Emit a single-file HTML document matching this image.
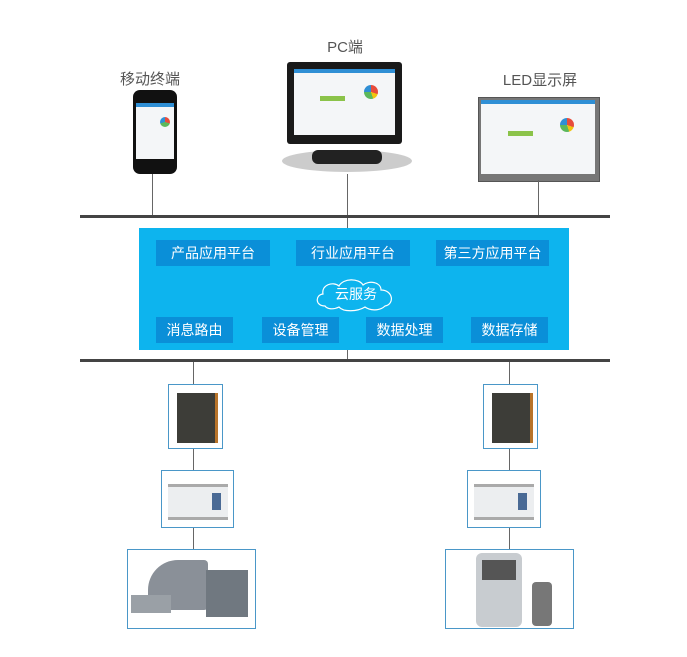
<!DOCTYPE html>
<html><head><meta charset="utf-8"><style>
body{margin:0;width:687px;height:657px;background:#fff;position:relative;overflow:hidden;font-family:"Liberation Sans","Noto Sans CJK SC",sans-serif}
.a{position:absolute}
.lbl{position:absolute;font-size:15px;color:#555;text-align:center}
.vl{position:absolute;width:1px;background:#666}
.bar{position:absolute;left:80px;width:530px;height:3px;background:#444}
.bt{position:absolute;height:26px;background:#0a8fd8;color:#fff;font-size:14px;line-height:26px;text-align:center}
.dev{position:absolute;border:1px solid #4a97c8;background:#fff;box-sizing:border-box}
.scr{position:absolute;background:#f4f6f8}
</style></head><body>
<div class="lbl" style="left:115px;top:68px;width:70px">移动终端</div>
<div class="lbl" style="left:310px;top:36px;width:70px">PC端</div>
<div class="lbl" style="left:495px;top:69px;width:90px">LED显示屏</div>
<!-- phone -->
<div class="a" style="left:133px;top:90px;width:44px;height:84px;background:#111;border-radius:7px"></div>
<div class="scr" style="left:136px;top:103px;width:38px;height:56px"></div>
<div class="a" style="left:136px;top:103px;width:38px;height:4px;background:#2f8fd5"></div>
<div class="a" style="left:160px;top:117px;width:10px;height:10px;border-radius:50%;background:conic-gradient(#e74c3c 0 30%,#5cb85c 0 70%,#2f8fd5 0)"></div>
<!-- PC -->
<div class="a" style="left:282px;top:150px;width:130px;height:22px;border-radius:50%;background:#ccc"></div>
<div class="a" style="left:312px;top:150px;width:70px;height:14px;border-radius:6px;background:#222"></div>
<div class="a" style="left:287px;top:62px;width:115px;height:82px;background:#1a1a1a;border-radius:3px"></div>
<div class="scr" style="left:294px;top:69px;width:101px;height:66px"></div>
<div class="a" style="left:294px;top:69px;width:101px;height:4px;background:#2f8fd5"></div>
<div class="a" style="left:364px;top:85px;width:14px;height:14px;border-radius:50%;background:conic-gradient(#e74c3c 0 30%,#f1c40f 0 45%,#5cb85c 0 75%,#2f8fd5 0)"></div>
<div class="a" style="left:320px;top:96px;width:25px;height:5px;background:#8bc34a"></div>
<!-- LED -->
<div class="a" style="left:478px;top:97px;width:120px;height:83px;background:#777;border:1px solid #555"></div>
<div class="scr" style="left:481px;top:100px;width:114px;height:74px"></div>
<div class="a" style="left:481px;top:100px;width:114px;height:4px;background:#2f8fd5"></div>
<div class="a" style="left:560px;top:118px;width:14px;height:14px;border-radius:50%;background:conic-gradient(#e74c3c 0 30%,#f1c40f 0 45%,#5cb85c 0 75%,#2f8fd5 0)"></div>
<div class="a" style="left:508px;top:131px;width:25px;height:5px;background:#8bc34a"></div>
<!-- lines -->
<div class="vl" style="left:152px;top:174px;height:42px"></div>
<div class="vl" style="left:347px;top:174px;height:54px"></div>
<div class="vl" style="left:538px;top:180px;height:36px"></div>
<div class="bar" style="top:215px"></div>
<div class="a" style="left:139px;top:228px;width:430px;height:122px;background:#0db4ee"></div>
<div class="bt" style="left:156px;top:240px;width:114px">产品应用平台</div>
<div class="bt" style="left:296px;top:240px;width:114px">行业应用平台</div>
<div class="bt" style="left:436px;top:240px;width:113px">第三方应用平台</div>
<svg class="a" style="left:313px;top:276px" width="86" height="36" viewBox="0 0 86 36"><path d="M12 30 C2 30 2 19 10 18 C8 9 20 5 26 10 C30 2 46 2 50 9 C56 4 68 6 68 14 C80 14 82 28 72 30 C66 36 56 34 52 31 C44 36 30 36 26 31 C20 34 14 33 12 30Z" fill="none" stroke="#fff" stroke-width="1.2"/><text x="43" y="23" font-size="14" fill="#fff" text-anchor="middle" font-family="Liberation Sans,Noto Sans CJK SC,sans-serif">云服务</text></svg>
<div class="bt" style="left:156px;top:317px;width:77px">消息路由</div>
<div class="bt" style="left:262px;top:317px;width:77px">设备管理</div>
<div class="bt" style="left:366px;top:317px;width:77px">数据处理</div>
<div class="bt" style="left:471px;top:317px;width:77px">数据存储</div>
<div class="vl" style="left:347px;top:350px;height:10px"></div>
<div class="bar" style="top:359px"></div>
<div class="vl" style="left:193px;top:362px;height:165px"></div>
<div class="vl" style="left:509px;top:362px;height:165px"></div>
<div class="vl" style="left:193px;top:527px;height:22px"></div>
<div class="vl" style="left:509px;top:527px;height:22px"></div>
<!-- devices left -->
<div class="dev" style="left:168px;top:384px;width:55px;height:65px"><div class="a" style="left:8px;top:8px;width:38px;height:50px;background:#3d3d38;border-right:3px solid #b8742a"></div></div>
<div class="dev" style="left:161px;top:470px;width:73px;height:58px"><div class="a" style="left:6px;top:13px;width:60px;height:30px;background:#eceef0;border-top:3px solid #aaa;border-bottom:3px solid #aaa"></div><div class="a" style="left:50px;top:22px;width:9px;height:17px;background:#4a6a95"></div></div>
<div class="dev" style="left:127px;top:549px;width:129px;height:80px"><div class="a" style="left:20px;top:10px;width:60px;height:50px;background:#8a9098;border-radius:30px 4px 4px 4px"></div><div class="a" style="left:78px;top:20px;width:42px;height:47px;background:#707880"></div><div class="a" style="left:3px;top:45px;width:40px;height:18px;background:#9aa0a6"></div></div>
<!-- devices right -->
<div class="dev" style="left:483px;top:384px;width:55px;height:65px"><div class="a" style="left:8px;top:8px;width:38px;height:50px;background:#3d3d38;border-right:3px solid #b8742a"></div></div>
<div class="dev" style="left:467px;top:470px;width:74px;height:58px"><div class="a" style="left:6px;top:13px;width:60px;height:30px;background:#eceef0;border-top:3px solid #aaa;border-bottom:3px solid #aaa"></div><div class="a" style="left:50px;top:22px;width:9px;height:17px;background:#4a6a95"></div></div>
<div class="dev" style="left:445px;top:549px;width:129px;height:80px"><div class="a" style="left:30px;top:3px;width:46px;height:74px;background:#c8ccd0;border-radius:6px"></div><div class="a" style="left:36px;top:10px;width:34px;height:20px;background:#555"></div><div class="a" style="left:86px;top:32px;width:20px;height:44px;background:#777;border-radius:4px"></div></div>
</body></html>
